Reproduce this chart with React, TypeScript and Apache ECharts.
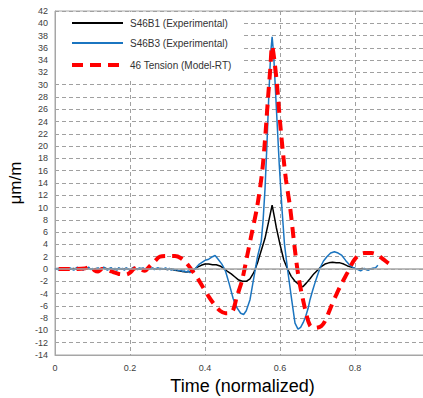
import React, { useEffect, useRef } from "react";
import * as echarts from "echarts";

// S46B1 (Experimental) — [time, µm/m]
const s46b1: [number, number][] = [
  [0.0, 0.0], [0.01, 0.1], [0.02, -0.1], [0.03, 0.1], [0.04, 0.0], [0.05, 0.1], [0.06, -0.1], [0.07, 0.2],
  [0.08, 0.0], [0.09, 0.1], [0.1, -0.1], [0.11, 0.1], [0.12, 0.0], [0.13, 0.2], [0.14, 0.0], [0.15, 0.1],
  [0.16, -0.1], [0.17, 0.1], [0.18, 0.0], [0.19, 0.1], [0.2, -0.1], [0.21, 0.1], [0.22, 0.0], [0.23, 0.1],
  [0.24, 0.0], [0.25, 0.1], [0.26, 0.1], [0.27, 0.0], [0.28, 0.1], [0.29, 0.0], [0.3, -0.1], [0.31, 0.0],
  [0.32, -0.2], [0.33, -0.3], [0.34, -0.4], [0.35, -0.5], [0.36, -0.4], [0.37, -0.1], [0.38, 0.3],
  [0.39, 0.6], [0.4, 0.8], [0.41, 0.8], [0.42, 0.7], [0.43, 0.7], [0.44, 0.5], [0.45, 0.1], [0.46, -0.4],
  [0.47, -0.8], [0.48, -1.3], [0.49, -1.8], [0.5, -2.0], [0.51, -2.0], [0.52, -1.6], [0.53, -0.6],
  [0.54, 1.0], [0.55, 3.0], [0.56, 5.0], [0.57, 7.8], [0.579, 10.4], [0.585, 8.5], [0.59, 6.8],
  [0.6, 4.0], [0.61, 1.5], [0.62, 0.0], [0.63, -1.2], [0.64, -2.0], [0.65, -2.5], [0.661, -2.9],
  [0.67, -2.3], [0.68, -1.6], [0.69, -0.8], [0.7, -0.2], [0.71, 0.4], [0.72, 0.8], [0.73, 1.0],
  [0.74, 1.1], [0.75, 1.0], [0.76, 1.0], [0.77, 0.8], [0.78, 0.5], [0.79, 0.3], [0.8, 0.1], [0.81, 0.0],
  [0.82, 0.1], [0.83, -0.1], [0.84, 0.0], [0.85, 0.1],
];

// S46B3 (Experimental)
const s46b3: [number, number][] = [
  [0.0, -0.1], [0.005, 0.1], [0.01, -0.2], [0.015, 0.0], [0.02, 0.2], [0.025, -0.1], [0.03, 0.1],
  [0.035, -0.2], [0.04, 0.2], [0.045, 0.0], [0.05, -0.2], [0.055, 0.1], [0.06, 0.3], [0.065, -0.1],
  [0.07, 0.1], [0.075, -0.2], [0.08, 0.2], [0.085, 0.0], [0.09, 0.3], [0.095, -0.1], [0.1, 0.1],
  [0.105, -0.3], [0.11, 0.0], [0.115, 0.2], [0.12, -0.1], [0.125, 0.1], [0.13, 0.3], [0.135, 0.0],
  [0.14, -0.2], [0.145, 0.1], [0.15, 0.2], [0.155, -0.1], [0.16, 0.1], [0.165, -0.2], [0.17, 0.2],
  [0.175, 0.0], [0.18, 0.1], [0.185, -0.2], [0.19, 0.2], [0.195, 0.0], [0.2, -0.2], [0.205, 0.1],
  [0.21, 0.3], [0.215, 0.0], [0.22, -0.1], [0.225, 0.2], [0.23, 0.0], [0.235, 0.2], [0.24, -0.1],
  [0.245, 0.1], [0.25, 0.3], [0.255, 0.0], [0.26, 0.2], [0.265, -0.1], [0.27, 0.1], [0.275, 0.2],
  [0.28, -0.1], [0.285, 0.1], [0.29, 0.0], [0.295, 0.2], [0.3, -0.1], [0.305, 0.1], [0.31, -0.2],
  [0.315, 0.0], [0.32, -0.2], [0.325, -0.1], [0.33, -0.3], [0.335, -0.2], [0.34, -0.4], [0.345, -0.3],
  [0.35, -0.5], [0.355, -0.3], [0.36, -0.6], [0.365, -0.4], [0.37, -0.2], [0.375, 0.1], [0.38, 0.5],
  [0.385, 0.8], [0.39, 1.0], [0.395, 1.2], [0.4, 1.4], [0.405, 1.5], [0.41, 1.6], [0.415, 1.8],
  [0.42, 2.0], [0.427, 2.2], [0.435, 1.6], [0.445, 0.8], [0.455, -0.4], [0.465, -2.5], [0.475, -4.8],
  [0.485, -6.3], [0.495, -7.2], [0.503, -7.4], [0.51, -6.8], [0.52, -5.0], [0.53, -1.5], [0.54, 2.0],
  [0.55, 4.5], [0.555, 8.0], [0.56, 13.0], [0.565, 20.0], [0.57, 28.0], [0.575, 35.0], [0.579, 37.8],
  [0.583, 35.0], [0.588, 29.0], [0.593, 23.0], [0.598, 17.0], [0.605, 10.0], [0.612, 4.0], [0.62, 0.0],
  [0.63, -4.5], [0.64, -8.8], [0.648, -9.8], [0.655, -9.5], [0.662, -8.7], [0.668, -7.8], [0.675, -6.4],
  [0.68, -5.0], [0.687, -3.5], [0.693, -2.3], [0.7, -1.0], [0.707, 0.2], [0.716, 1.3], [0.725, 2.0],
  [0.735, 2.6], [0.745, 2.8], [0.755, 2.6], [0.765, 2.2], [0.775, 1.4], [0.785, 0.7], [0.795, 0.2],
  [0.805, 0.0], [0.815, -0.3], [0.825, 0.1], [0.835, -0.2], [0.845, 0.1], [0.855, 0.2], [0.861, 0.6],
];

// 46 Tension (Model-RT)
const model: [number, number][] = [
  [0.01, 0.0], [0.05, 0.0], [0.08, 0.1], [0.095, 0.4], [0.105, -0.2], [0.115, -0.4], [0.125, 0.0],
  [0.14, -0.2], [0.155, -0.5], [0.17, -0.8], [0.19, -0.9], [0.2, -0.6], [0.21, 0.0], [0.22, 0.3],
  [0.23, -0.1], [0.24, -0.3], [0.25, 0.3], [0.265, 1.2], [0.28, 2.0], [0.3, 2.1], [0.32, 2.1],
  [0.335, 1.8], [0.35, 1.0], [0.365, -0.2], [0.38, -1.5], [0.395, -3.0], [0.41, -4.5], [0.425, -5.8],
  [0.44, -6.8], [0.455, -7.2], [0.472, -7.0], [0.485, -4.5], [0.499, -1.8], [0.512, 2.0], [0.525, 5.9],
  [0.539, 10.1], [0.552, 15.6], [0.56, 21.0], [0.568, 27.8], [0.574, 32.5], [0.579, 36.3], [0.585, 34.0],
  [0.592, 30.0], [0.6, 24.0], [0.608, 18.9], [0.616, 14.5], [0.627, 10.0], [0.64, 3.0], [0.65, -1.5],
  [0.665, -6.0], [0.68, -9.2], [0.695, -9.6], [0.71, -9.3], [0.72, -8.5], [0.735, -6.3], [0.75, -4.2],
  [0.765, -2.3], [0.78, -0.6], [0.795, 1.2], [0.81, 2.3], [0.825, 2.6], [0.845, 2.6], [0.86, 2.3],
  [0.875, 1.6], [0.89, 0.9], [0.9, 0.6],
];

const seriesNames = ["S46B1 (Experimental)", "S46B3 (Experimental)", "46 Tension (Model-RT)"];
const seriesColors = ["#000000", "#1b75c0", "#ff0000"];

const FONT = "'Liberation Sans', Arial, sans-serif";

export default function App() {
  const ref = useRef<HTMLDivElement>(null);
  useEffect(() => {
    if (!ref.current) return;
    const chart = echarts.init(ref.current, undefined, { renderer: "svg" });
    const legendY = [23, 43, 65];
    chart.setOption({
      animation: false,
      backgroundColor: "#ffffff",
      textStyle: { fontFamily: FONT },
      grid: {
        left: 55,
        top: 11,
        width: 375,
        height: 344,
        show: true,
        borderColor: "#a6a6a6",
        borderWidth: 1,
        outerBoundsMode: "none",
      },
      xAxis: {
        type: "value",
        min: 0,
        max: 1,
        interval: 0.2,
        name: "Time (normalized)",
        nameLocation: "middle",
        nameGap: 22,
        nameTextStyle: { fontSize: 18, color: "#000", fontFamily: FONT },
        axisLine: { onZero: false, lineStyle: { color: "#a6a6a6" } },
        axisTick: { show: false },
        axisLabel: { fontSize: 9, color: "#404040", margin: 8, showMaxLabel: false, fontFamily: FONT },
        splitLine: { show: true, lineStyle: { color: "#a0a0a0", type: [4, 3], width: 1 } },
      },
      yAxis: {
        type: "value",
        min: -14,
        max: 42,
        interval: 2,
        name: "μm/m",
        nameLocation: "middle",
        nameGap: 17,
        nameTextStyle: { fontSize: 17, color: "#000", fontFamily: FONT },
        axisLine: { show: true, lineStyle: { color: "#a6a6a6" } },
        axisTick: { show: false },
        axisLabel: { fontSize: 9, color: "#404040", margin: 7, fontFamily: FONT },
        splitLine: { show: true, lineStyle: { color: "#a0a0a0", type: [4, 3], width: 1 } },
      },
      series: [
        {
          name: seriesNames[0],
          type: "line",
          data: s46b1,
          showSymbol: false,
          symbol: "none",
          lineStyle: { color: seriesColors[0], width: 1.5 },
          markLine: {
            silent: true,
            symbol: ["none", "none"],
            label: { show: false },
            lineStyle: { color: "#a6a6a6", type: "solid", width: 1.5 },
            data: [{ yAxis: 0 }],
          },
          z: 2,
        },
        {
          name: seriesNames[1],
          type: "line",
          data: s46b3,
          showSymbol: false,
          symbol: "none",
          lineStyle: { color: seriesColors[1], width: 1.5 },
          z: 3,
        },
        {
          name: seriesNames[2],
          type: "line",
          data: model,
          showSymbol: false,
          symbol: "none",
          smooth: 0.3,
          lineStyle: { color: seriesColors[2], width: 4, type: [11, 7] },
          z: 4,
        },
      ],
      graphic: [
        {
          type: "rect",
          z: 100,
          shape: { x: 56, y: 12, width: 187, height: 66 },
          style: { fill: "#ffffff" },
        },
        ...seriesNames.flatMap((n, i) => [
          {
            type: "line",
            z: 101,
            shape: { x1: 72, y1: legendY[i], x2: 123, y2: legendY[i] },
            style: {
              stroke: seriesColors[i],
              lineWidth: i === 2 ? 4 : 2,
              lineDash: i === 2 ? [11, 7] : null,
            },
          },
          {
            type: "text",
            z: 101,
            x: 130,
            y: legendY[i],
            style: {
              text: n,
              fill: "#333",
              fontSize: 10,
              fontFamily: FONT,
              verticalAlign: "middle",
              align: "left",
            },
          },
        ]),
      ],
    });
    return () => chart.dispose();
  }, []);
  return (
    <div
      ref={ref}
      style={{ position: "fixed", left: 0, top: 0, width: 423, height: 398 }}
    />
  );
}
